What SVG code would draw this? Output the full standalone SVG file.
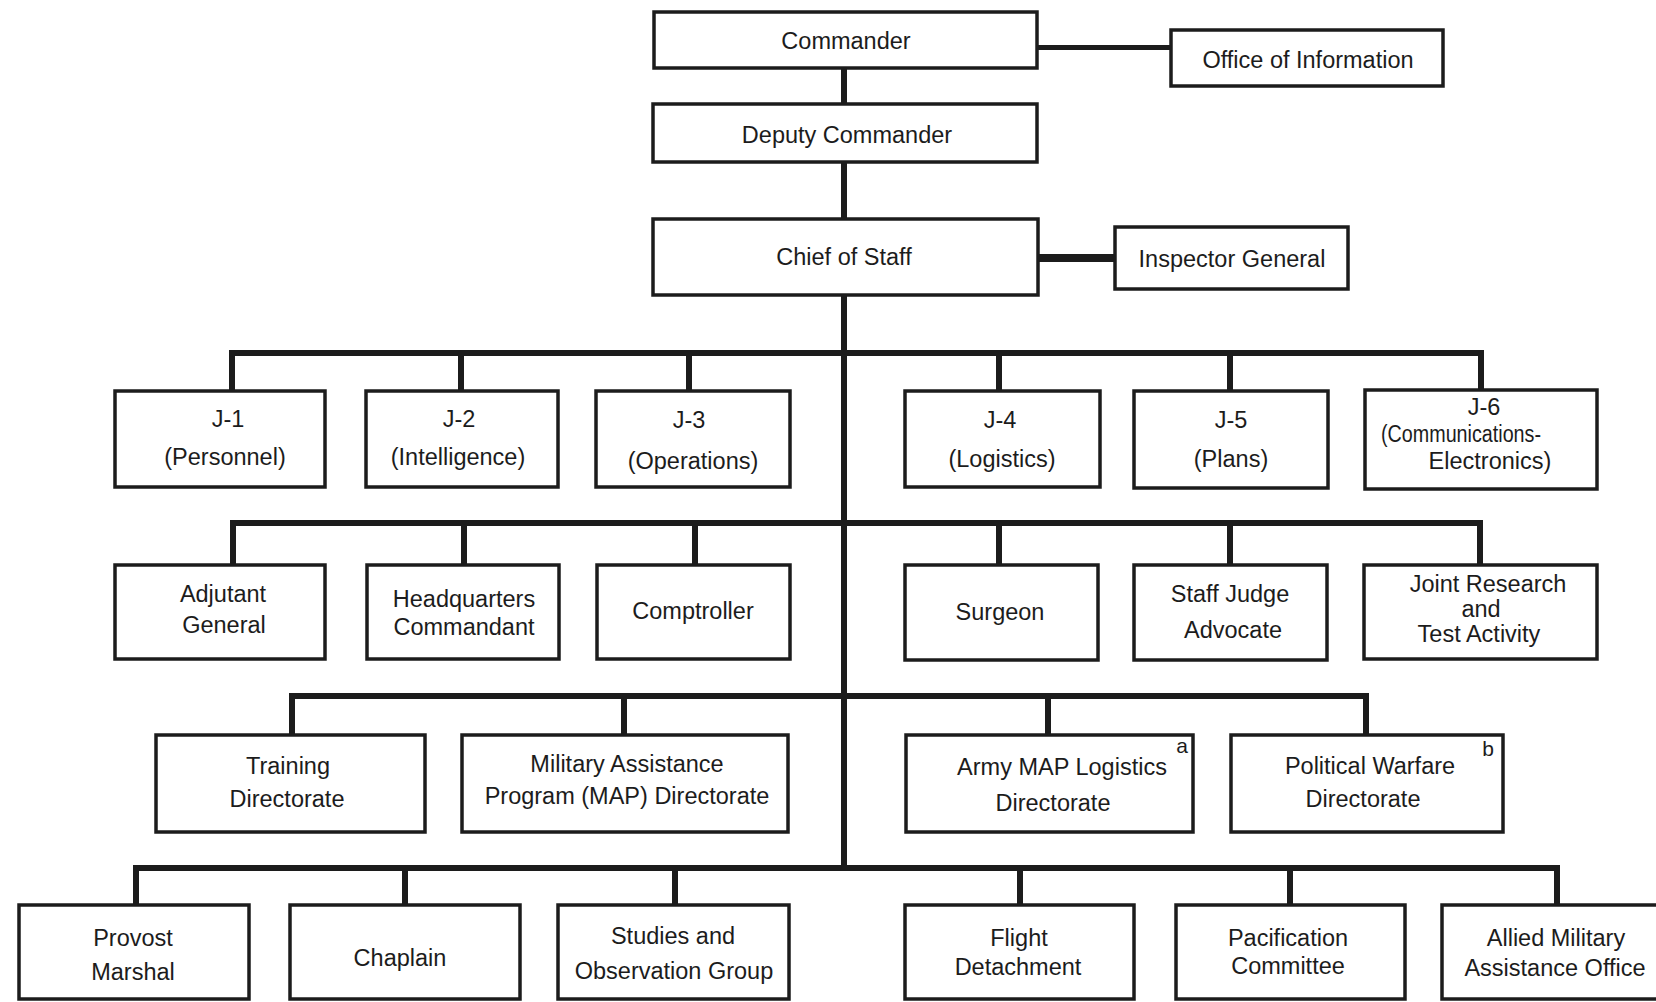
<svg xmlns="http://www.w3.org/2000/svg" width="1656" height="1002" viewBox="0 0 1656 1002">
<style>
.box{fill:#fff;stroke:#1c1c1c;stroke-width:3.5}
.t{font-family:"Liberation Sans",Arial,sans-serif;font-size:23.5px;fill:#1c1c1c;text-anchor:middle}
.s{font-family:"Liberation Sans",Arial,sans-serif;font-size:21px;fill:#1c1c1c;text-anchor:middle}
.c{stroke:#1c1c1c;stroke-width:6;fill:none;stroke-linecap:square}
</style>
<rect width="1656" height="1002" fill="#fff"/>
<g id="connectors">
<line class="c" x1="1038" y1="47.5" x2="1170" y2="47.5" style="stroke-width:5"/>
<line class="c" x1="844" y1="69" x2="844" y2="103"/>
<line class="c" x1="844" y1="163" x2="844" y2="218"/>
<line class="c" x1="1039" y1="258" x2="1114" y2="258" style="stroke-width:8;stroke-linecap:butt"/>
<line class="c" x1="844" y1="296" x2="844" y2="868"/>
<path class="c" d="M232 390V353H1481V390M461 353V390M689 353V390M999 353V390M1230 353V390"/>
<path class="c" d="M233 564V523H1480V564M464 523V564M695 523V564M999 523V564M1230 523V564"/>
<path class="c" d="M292 733V696H1366V733M624 696V733M1048 696V733"/>
<path class="c" d="M136 904V868H1557V904M405 868V904M675 868V904M1020 868V904M1290 868V904"/>
</g>
<g id="commander"><rect class="box" x="654" y="12" width="383" height="56"/><text class="t" x="846" y="49">Commander</text></g>
<g id="office-of-information"><rect class="box" x="1171" y="30" width="272" height="56"/><text class="t" x="1308" y="68">Office of Information</text></g>
<g id="deputy-commander"><rect class="box" x="653" y="104" width="384" height="58"/><text class="t" x="847" y="143">Deputy Commander</text></g>
<g id="chief-of-staff"><rect class="box" x="653" y="219" width="385" height="76"/><text class="t" x="844" y="265">Chief of Staff</text></g>
<g id="inspector-general"><rect class="box" x="1115" y="227" width="233" height="62"/><text class="t" x="1232" y="267">Inspector General</text></g>

<g id="j1"><rect class="box" x="115" y="391" width="210" height="96"/><text class="t" x="228" y="427">J-1</text><text class="t" x="225" y="465">(Personnel)</text></g>
<g id="j2"><rect class="box" x="366" y="391" width="192" height="96"/><text class="t" x="459" y="427">J-2</text><text class="t" x="458" y="465">(Intelligence)</text></g>
<g id="j3"><rect class="box" x="596" y="391" width="194" height="96"/><text class="t" x="689" y="428">J-3</text><text class="t" x="693" y="469">(Operations)</text></g>
<g id="j4"><rect class="box" x="905" y="391" width="195" height="96"/><text class="t" x="1000" y="428">J-4</text><text class="t" x="1002" y="467">(Logistics)</text></g>
<g id="j5"><rect class="box" x="1134" y="391" width="194" height="97"/><text class="t" x="1231" y="428">J-5</text><text class="t" x="1231" y="467">(Plans)</text></g>
<g id="j6"><rect class="box" x="1365" y="390" width="232" height="99"/><text class="t" x="1484" y="415">J-6</text><text class="t" x="1461" y="442" textLength="160" lengthAdjust="spacingAndGlyphs">(Communications-</text><text class="t" x="1490" y="469">Electronics)</text></g>

<g id="adjutant-general"><rect class="box" x="115" y="565" width="210" height="94"/><text class="t" x="223" y="602">Adjutant</text><text class="t" x="224" y="633">General</text></g>
<g id="hq-commandant"><rect class="box" x="367" y="565" width="192" height="94"/><text class="t" x="464" y="607">Headquarters</text><text class="t" x="464" y="635">Commandant</text></g>
<g id="comptroller"><rect class="box" x="597" y="565" width="193" height="94"/><text class="t" x="693" y="619">Comptroller</text></g>
<g id="surgeon"><rect class="box" x="905" y="565" width="193" height="95"/><text class="t" x="1000" y="620">Surgeon</text></g>
<g id="staff-judge-advocate"><rect class="box" x="1134" y="565" width="193" height="95"/><text class="t" x="1230" y="602">Staff Judge</text><text class="t" x="1233" y="638">Advocate</text></g>
<g id="joint-research"><rect class="box" x="1364" y="565" width="233" height="94"/><text class="t" x="1488" y="592">Joint Research</text><text class="t" x="1481" y="617">and</text><text class="t" x="1479" y="642">Test Activity</text></g>

<g id="training-directorate"><rect class="box" x="156" y="735" width="269" height="97"/><text class="t" x="288" y="774">Training</text><text class="t" x="287" y="807">Directorate</text></g>
<g id="map-directorate"><rect class="box" x="462" y="735" width="326" height="97"/><text class="t" x="627" y="772">Military Assistance</text><text class="t" x="627" y="804">Program (MAP) Directorate</text></g>
<g id="army-map-logistics"><rect class="box" x="906" y="735" width="287" height="97"/><text class="t" x="1062" y="775">Army MAP Logistics</text><text class="t" x="1053" y="811">Directorate</text><text class="s" x="1182" y="753">a</text></g>
<g id="political-warfare"><rect class="box" x="1231" y="735" width="272" height="97"/><text class="t" x="1370" y="774">Political Warfare</text><text class="t" x="1363" y="807">Directorate</text><text class="s" x="1488" y="756">b</text></g>

<g id="provost-marshal"><rect class="box" x="19" y="905" width="230" height="94"/><text class="t" x="133" y="946">Provost</text><text class="t" x="133" y="980">Marshal</text></g>
<g id="chaplain"><rect class="box" x="290" y="905" width="230" height="94"/><text class="t" x="400" y="966">Chaplain</text></g>
<g id="studies-observation"><rect class="box" x="558" y="905" width="231" height="94"/><text class="t" x="673" y="944">Studies and</text><text class="t" x="674" y="979">Observation Group</text></g>
<g id="flight-detachment"><rect class="box" x="905" y="905" width="229" height="94"/><text class="t" x="1019" y="946">Flight</text><text class="t" x="1018" y="975">Detachment</text></g>
<g id="pacification-committee"><rect class="box" x="1176" y="905" width="229" height="94"/><text class="t" x="1288" y="946">Pacification</text><text class="t" x="1288" y="974">Committee</text></g>
<g id="allied-military"><rect class="box" x="1442" y="905" width="240" height="94"/><text class="t" x="1556" y="946">Allied Military</text><text class="t" x="1555" y="976">Assistance Office</text></g>
</svg>
